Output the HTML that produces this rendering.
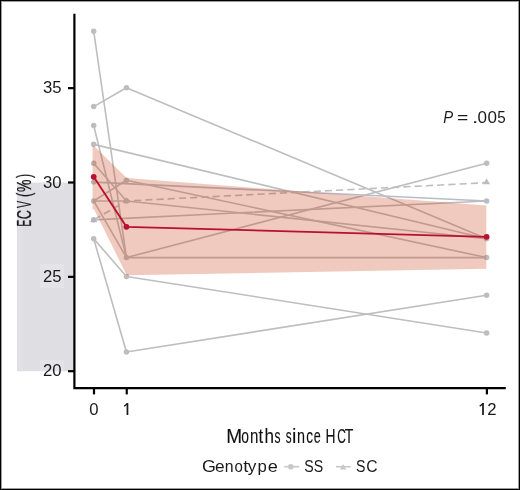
<!DOCTYPE html>
<html><head><meta charset="utf-8"><style>
html,body{margin:0;padding:0;background:#fff;width:520px;height:490px;overflow:hidden}
svg{display:block;will-change:transform}
</style></head><body>
<svg width="520" height="490" viewBox="0 0 520 490">
<rect x="0" y="0" width="520" height="490" fill="#fff"/>
<rect x="17" y="182.6" width="57" height="188.6" fill="#dfdee3"/>
<g fill="#e4e3e8"><rect x="40" y="182.6" width="24" height="7.4"/><rect x="40" y="264" width="24" height="24"/><rect x="40" y="360" width="24" height="11.2"/></g>
<rect x="18.5" y="182.6" width="4.5" height="188.6" fill="#e2e1e6"/>
<g stroke-width="1.6" stroke-linecap="round"><line x1="93.7" y1="31.14" x2="126.44" y2="257.58" stroke="#bebebe"/><line x1="93.7" y1="106.62" x2="126.44" y2="87.75" stroke="#bebebe"/><line x1="93.7" y1="125.49" x2="126.44" y2="257.58" stroke="#bebebe"/><line x1="93.7" y1="163.23" x2="126.44" y2="200.97" stroke="#bebebe"/><line x1="93.7" y1="200.97" x2="126.44" y2="180.21" stroke="#bebebe"/><line x1="93.7" y1="200.97" x2="126.44" y2="200.97" stroke="#bebebe"/><line x1="93.7" y1="238.71" x2="126.44" y2="351.93" stroke="#bebebe"/><line x1="93.7" y1="238.71" x2="126.44" y2="276.45" stroke="#bebebe"/><line x1="93.7" y1="200.97" x2="126.44" y2="257.58" stroke="#bebebe"/><line x1="93.7" y1="144.36" x2="486.6" y2="238.71" stroke="#bebebe"/><line x1="93.7" y1="219.84" x2="486.6" y2="200.97" stroke="#bebebe"/><line x1="93.7" y1="182.1" x2="486.6" y2="200.97" stroke="#b9bcc6"/><line x1="126.44" y1="87.75" x2="486.6" y2="238.71" stroke="#bebebe"/><line x1="126.44" y1="200.97" x2="486.6" y2="238.71" stroke="#bebebe"/><line x1="126.44" y1="180.21" x2="486.6" y2="257.58" stroke="#bebebe"/><line x1="126.44" y1="351.93" x2="486.6" y2="295.32" stroke="#bebebe"/><line x1="126.44" y1="276.45" x2="486.6" y2="333.06" stroke="#bebebe"/><line x1="126.44" y1="257.58" x2="486.6" y2="163.23" stroke="#bebebe"/><line x1="126.44" y1="257.58" x2="486.6" y2="257.58" stroke="#bebebe"/></g>
<polyline points="93.7,219.84 126.44,200.97 486.6,182.67" fill="none" stroke="#bebebe" stroke-dasharray="7.2 4.04" stroke-dashoffset="10.85" stroke-width="1.6"/>
<g><circle cx="93.7" cy="31.14" r="2.75" fill="#bdbdbd"/><circle cx="93.7" cy="106.62" r="2.75" fill="#bdbdbd"/><circle cx="93.7" cy="125.49" r="2.75" fill="#bdbdbd"/><circle cx="93.7" cy="144.36" r="2.75" fill="#bdbdbd"/><circle cx="93.7" cy="163.23" r="2.75" fill="#bdbdbd"/><circle cx="93.7" cy="182.1" r="2.75" fill="#bdbdbd"/><circle cx="93.7" cy="200.97" r="2.75" fill="#bdbdbd"/><circle cx="93.7" cy="219.84" r="2.75" fill="#bdbdbd"/><circle cx="93.7" cy="238.71" r="2.75" fill="#bdbdbd"/><circle cx="126.44" cy="87.75" r="2.75" fill="#bdbdbd"/><circle cx="126.44" cy="180.21" r="2.75" fill="#bdbdbd"/><circle cx="126.44" cy="200.97" r="2.75" fill="#bdbdbd"/><circle cx="126.44" cy="257.58" r="2.75" fill="#bdbdbd"/><circle cx="126.44" cy="276.45" r="2.75" fill="#bdbdbd"/><circle cx="126.44" cy="351.93" r="2.75" fill="#bdbdbd"/><circle cx="486.6" cy="163.23" r="2.75" fill="#bdbdbd"/><circle cx="486.6" cy="200.97" r="2.75" fill="#b9bcc6"/><circle cx="486.6" cy="238.71" r="2.75" fill="#bdbdbd"/><circle cx="486.6" cy="257.58" r="2.75" fill="#bdbdbd"/><circle cx="486.6" cy="295.32" r="2.75" fill="#bdbdbd"/><circle cx="486.6" cy="333.06" r="2.75" fill="#bdbdbd"/></g>
<g><polygon points="90.09,222.34 97.31,222.34 93.7,216.64" fill="#b3b6c6"/><polygon points="122.83,202.87 130.05,202.87 126.44,197.17" fill="#bdbdbd"/><polygon points="482.99,184.3 490.21,184.3 486.6,178.6" fill="#bdbdbd"/></g>
<polygon points="92.6,146 94,146 126.74,178 486.3,205.5 486.3,268.8 126.74,275.3 94,209.3 92.6,209.3" fill="#c83c10" fill-opacity="0.27"/>
<polyline points="93.7,176.84 126.44,226.84 486.6,236.85" fill="none" stroke="#b8102e" stroke-width="1.8"/>
<circle cx="93.7" cy="176.84" r="2.9" fill="#b8102e"/><circle cx="126.44" cy="226.84" r="2.9" fill="#b8102e"/><circle cx="486.6" cy="236.85" r="2.9" fill="#b8102e"/>
<g stroke="#000" stroke-width="2.2" fill="none">
<polyline points="74.4,13.8 74.4,388.1 505.8,388.1"/>
<line x1="68" y1="371.2" x2="74.4" y2="371.2"/><line x1="68" y1="276.85" x2="74.4" y2="276.85"/><line x1="68" y1="182.5" x2="74.4" y2="182.5"/><line x1="68" y1="88.15" x2="74.4" y2="88.15"/><line x1="94" y1="388" x2="94" y2="394.4"/><line x1="126.74" y1="388" x2="126.74" y2="394.4"/><line x1="486.9" y1="388" x2="486.9" y2="394.4"/>
</g>
<g font-family="Liberation Sans, sans-serif" font-size="16.7" fill="#1a1a1a"><text x="61.5" y="376.4" text-anchor="end">20</text><text x="61.5" y="282.05" text-anchor="end">25</text><text x="61.5" y="187.7" text-anchor="end">30</text><text x="61.5" y="93.35" text-anchor="end">35</text><text x="94" y="415.2" text-anchor="middle">0</text><text x="487.3" y="415.2">2</text></g>
<g stroke="#1a1a1a"><line x1="127.45" y1="403.1" x2="127.45" y2="415" stroke-width="1.75"/><line x1="127.5" y1="403.5" x2="124.2" y2="406.2" stroke-width="1.45"/><line x1="483" y1="403.1" x2="483" y2="415" stroke-width="1.75"/><line x1="483.05" y1="403.5" x2="479.75" y2="406.2" stroke-width="1.45"/></g>
<g font-family="Liberation Sans, sans-serif" font-size="19.8" fill="#111" stroke="#111" stroke-width="0.12"><text x="226.21" y="442.5" textLength="15.87" lengthAdjust="spacingAndGlyphs">M</text><text x="241.35" y="442.5" textLength="7.7" lengthAdjust="spacingAndGlyphs">o</text><text x="249.96" y="442.5" textLength="8.37" lengthAdjust="spacingAndGlyphs">n</text><text x="258.4" y="442.5" textLength="4.7" lengthAdjust="spacingAndGlyphs">t</text><text x="264.45" y="442.5" textLength="9.5" lengthAdjust="spacingAndGlyphs">h</text><text x="274.55" y="442.5" textLength="6.0" lengthAdjust="spacingAndGlyphs">s</text><text x="285.66" y="442.5" textLength="5.89" lengthAdjust="spacingAndGlyphs">s</text><text x="292.06" y="442.5" textLength="4.36" lengthAdjust="spacingAndGlyphs">i</text><text x="297.1" y="442.5" textLength="8.0" lengthAdjust="spacingAndGlyphs">n</text><text x="306.34" y="442.5" textLength="6.76" lengthAdjust="spacingAndGlyphs">c</text><text x="313.79" y="442.5" textLength="7.02" lengthAdjust="spacingAndGlyphs">e</text><text x="325.6" y="442.5" textLength="10.0" lengthAdjust="spacingAndGlyphs">H</text><text x="337.3" y="442.5" textLength="8.6" lengthAdjust="spacingAndGlyphs">C</text><text x="344.74" y="442.5" textLength="8.6" lengthAdjust="spacingAndGlyphs">T</text></g>
<g font-family="Liberation Sans, sans-serif" font-size="20" fill="#1a1a1a" stroke="#1a1a1a" stroke-width="0.3" transform="translate(30.8,300) rotate(-90)"><text x="73.42" y="0" textLength="6.76" lengthAdjust="spacingAndGlyphs">E</text><text x="80.77" y="0" textLength="9.11" lengthAdjust="spacingAndGlyphs">C</text><text x="92.0" y="0" textLength="7.1" lengthAdjust="spacingAndGlyphs">V</text><text x="102.91" y="0" textLength="4.38" lengthAdjust="spacingAndGlyphs">(</text><text x="108.08" y="0" textLength="12.44" lengthAdjust="spacingAndGlyphs">&#37;</text><text x="121.93" y="0" textLength="4.13" lengthAdjust="spacingAndGlyphs">)</text></g>
<g font-family="Liberation Sans, sans-serif" font-size="16.8" fill="#1a1a1a"><text x="202.09" y="471.8" textLength="13.9" lengthAdjust="spacingAndGlyphs">G</text><text x="215.0" y="471.8" textLength="9.6" lengthAdjust="spacingAndGlyphs">e</text><text x="224.77" y="471.8" textLength="8.81" lengthAdjust="spacingAndGlyphs">n</text><text x="234.6" y="471.8" textLength="8.39" lengthAdjust="spacingAndGlyphs">o</text><text x="243.3" y="471.8" textLength="5.11" lengthAdjust="spacingAndGlyphs">t</text><text x="247.84" y="471.8" textLength="8.6" lengthAdjust="spacingAndGlyphs">y</text><text x="257.51" y="471.8" textLength="9.33" lengthAdjust="spacingAndGlyphs">p</text><text x="267.76" y="471.8" textLength="10.08" lengthAdjust="spacingAndGlyphs">e</text><text x="304.21" y="471.8" textLength="9.44" lengthAdjust="spacingAndGlyphs">S</text><text x="313.81" y="471.8" textLength="9.44" lengthAdjust="spacingAndGlyphs">S</text><text x="356.11" y="471.8" textLength="9.44" lengthAdjust="spacingAndGlyphs">S</text><text x="366.24" y="471.8" textLength="11.32" lengthAdjust="spacingAndGlyphs">C</text></g>
<line x1="284.2" y1="466.7" x2="299.2" y2="466.7" stroke="#c8c8c8" stroke-width="1.6"/>
<circle cx="290.8" cy="466.7" r="2.8" fill="#c8c8c8"/>
<line x1="335.9" y1="466.7" x2="350.7" y2="466.7" stroke="#c8c8c8" stroke-width="1.6"/>
<polygon points="340,469.5 346.3,469.5 343.1,463.9" fill="#c8c8c8"/>
<g font-family="Liberation Sans, sans-serif" font-size="15.6" fill="#1a1a1a"><text x="443.22" y="122.6" textLength="9.88" lengthAdjust="spacingAndGlyphs" font-style="italic">P</text><text x="456.97" y="122.6" textLength="11.27" lengthAdjust="spacingAndGlyphs">=</text><text x="472.04" y="122.6" textLength="6.32" lengthAdjust="spacingAndGlyphs">.</text><text x="477.55" y="122.6" textLength="9.51" lengthAdjust="spacingAndGlyphs">0</text><text x="487.55" y="122.6" textLength="9.51" lengthAdjust="spacingAndGlyphs">0</text><text x="497.26" y="122.6" textLength="8.45" lengthAdjust="spacingAndGlyphs">5</text></g>
<rect x="1.5" y="1.5" width="517" height="487" fill="none" stroke="#9c9c9c" stroke-width="1"/>
<rect x="0.5" y="0.5" width="519" height="489" fill="none" stroke="#000" stroke-width="1"/>
</svg>
</body></html>
